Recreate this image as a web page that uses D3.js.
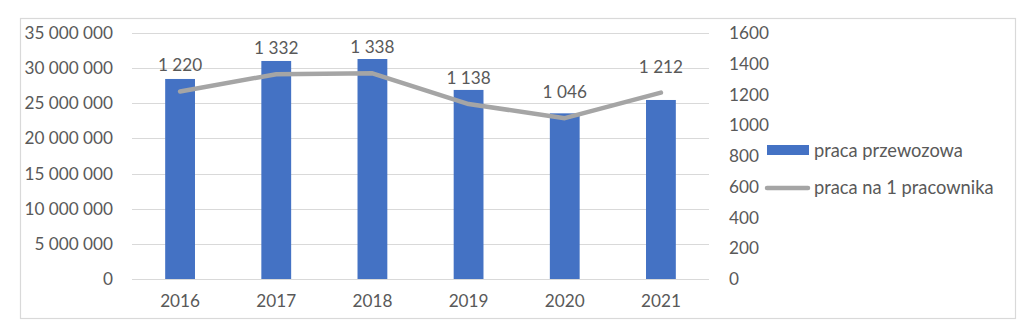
<!DOCTYPE html>
<html>
<head>
<meta charset="utf-8">
<script src="https://cdn.jsdelivr.net/npm/d3@7"></script>
<style>
  html, body { margin: 0; padding: 0; background: #fff; }
  svg { display: block; }
  text { font-family: Lato, "Open Sans", sans-serif; fill: #595959; }
</style>
</head>
<body>
<svg id="chart" width="1030" height="328"></svg>
<script>
// Years on the category axis
const years = ["2016", "2017", "2018", "2019", "2020", "2021"];
// Transport work (left axis)
const pracaPrzewozowa = [28460000, 31020000, 31300000, 26900000, 23570000, 25470000];
// Work per employee (right axis)
const pracaNaPracownika = [1220, 1332, 1338, 1138, 1046, 1212];
// Axis ticks
const leftTicks = [0, 5000000, 10000000, 15000000, 20000000, 25000000, 30000000, 35000000];
const rightTicks = [0, 200, 400, 600, 800, 1000, 1200, 1400, 1600];
// Legend entries
const seriesNames = ["praca przewozowa", "praca na 1 pracownika"];

const barColor = "#4472C4";
const lineColor = "#A5A5A5";
const gridColor = "#D9D9D9";
const numSize = 17.2;
const wordSize = 18.3;

const svg = d3.select("#chart");
const plot = { left: 132, right: 709, top: 33, bottom: 279 };

const locale = d3.formatLocale({ decimal: ",", thousands: "\u00a0", grouping: [3], currency: ["", " zł"] });
const fmt = locale.format(",d");

// Outer frame
svg.append("rect")
  .attr("x", 20.5).attr("y", 18.5)
  .attr("width", 995).attr("height", 300)
  .attr("fill", "#fff").attr("stroke", gridColor).attr("stroke-width", 1.2);

const x = d3.scaleBand().domain(years).range([plot.left, plot.right]).paddingInner(0).paddingOuter(0);
const yL = d3.scaleLinear().domain([0, 35000000]).range([plot.bottom, plot.top]);
const yR = d3.scaleLinear().domain([0, 1600]).range([plot.bottom, plot.top]);

// Horizontal gridlines
svg.append("g").selectAll("line").data(leftTicks).join("line")
  .attr("x1", plot.left).attr("x2", plot.right)
  .attr("y1", d => Math.round(yL(d)) + 0.5).attr("y2", d => Math.round(yL(d)) + 0.5)
  .attr("stroke", gridColor).attr("stroke-width", 1.2);

// Left axis
const leftAxis = svg.append("g").attr("transform", `translate(${plot.left - 19},0)`)
  .call(d3.axisLeft(yL).tickValues(leftTicks).tickSize(0).tickPadding(0).tickFormat(fmt));
leftAxis.select(".domain").remove();
leftAxis.selectAll("text").attr("font-size", numSize).attr("fill", "#595959")
  .attr("font-family", "Lato, sans-serif");

// Right axis
const rightAxis = svg.append("g").attr("transform", `translate(${plot.right + 20},0)`)
  .call(d3.axisRight(yR).tickValues(rightTicks).tickSize(0).tickPadding(0).tickFormat(d3.format("d")));
rightAxis.select(".domain").remove();
rightAxis.selectAll("text").attr("font-size", numSize).attr("fill", "#595959")
  .attr("font-family", "Lato, sans-serif");

// Category axis
const bottomAxis = svg.append("g").attr("transform", `translate(0,${plot.bottom + 16})`)
  .call(d3.axisBottom(x).tickSize(0).tickPadding(0));
bottomAxis.select(".domain").remove();
bottomAxis.selectAll("text").attr("font-size", numSize).attr("fill", "#595959")
  .attr("font-family", "Lato, sans-serif");

// Bars
const barW = x.bandwidth() * 0.31;
svg.append("g").selectAll("rect").data(years).join("rect")
  .attr("x", d => x(d) + x.bandwidth() / 2 - barW / 2)
  .attr("width", barW)
  .attr("y", (d, i) => yL(pracaPrzewozowa[i]))
  .attr("height", (d, i) => yL(0) - yL(pracaPrzewozowa[i]))
  .attr("fill", barColor);

// Line
const line = d3.line()
  .x((d, i) => x(years[i]) + x.bandwidth() / 2)
  .y(d => yR(d));
svg.append("path").datum(pracaNaPracownika)
  .attr("d", line)
  .attr("fill", "none").attr("stroke", lineColor)
  .attr("stroke-width", 4.5).attr("stroke-linejoin", "round").attr("stroke-linecap", "round");

// Data labels above line points
svg.append("g").selectAll("text").data(pracaNaPracownika).join("text")
  .attr("x", (d, i) => x(years[i]) + x.bandwidth() / 2)
  .attr("y", d => yR(d) - 26)
  .attr("dy", "0.35em")
  .attr("text-anchor", "middle")
  .attr("font-size", numSize)
  .text(d => fmt(d));

// Legend
const legend = svg.append("g");
legend.append("rect").attr("x", 767).attr("y", 145).attr("width", 42).attr("height", 10).attr("fill", barColor);
legend.append("text").attr("x", 814).attr("y", 151).attr("dy", "0.35em").attr("font-size", wordSize).text(seriesNames[0]);
legend.append("line").attr("x1", 767).attr("x2", 808).attr("y1", 188).attr("y2", 188)
  .attr("stroke", lineColor).attr("stroke-width", 4.5).attr("stroke-linecap", "round");
legend.append("text").attr("x", 814).attr("y", 188).attr("dy", "0.35em").attr("font-size", wordSize).text(seriesNames[1]);
</script>
</body>
</html>
